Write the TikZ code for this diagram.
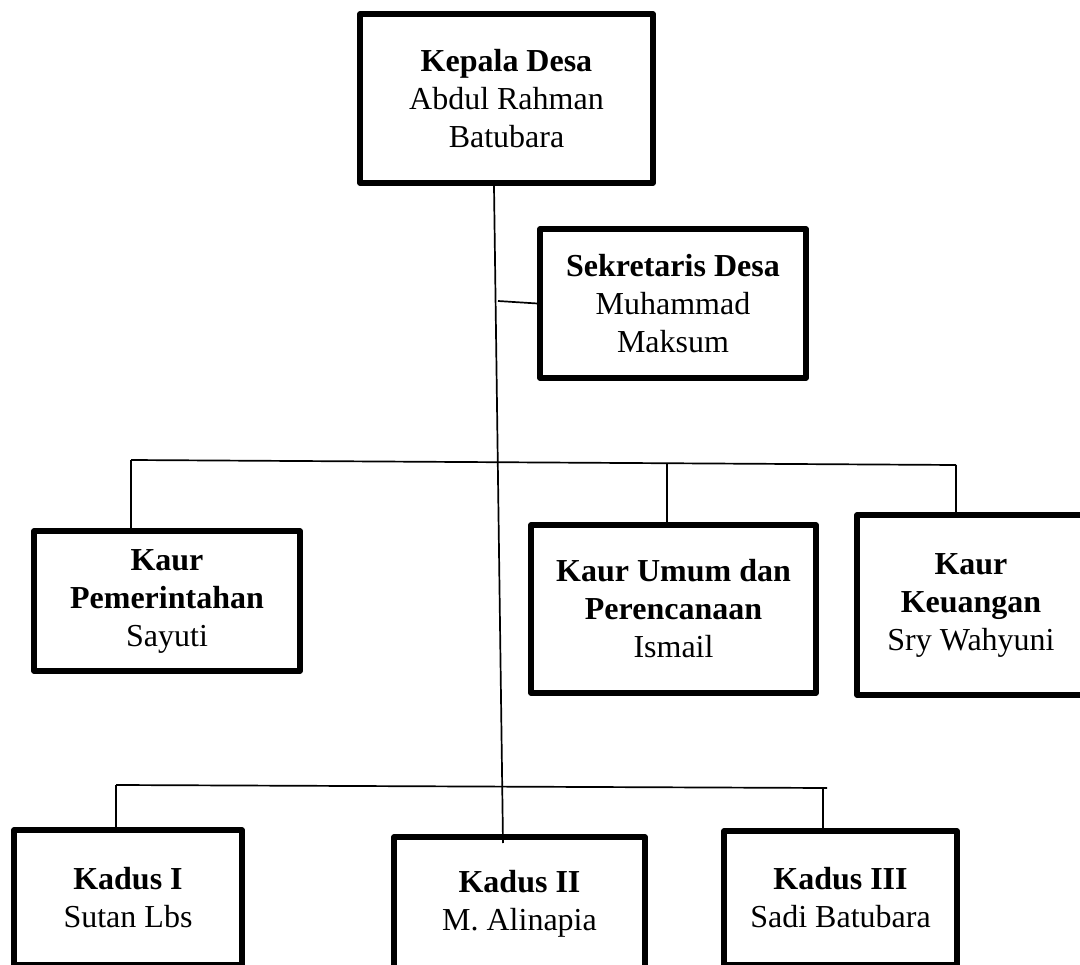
\documentclass[tikz,border=0pt]{standalone}
\usepackage{fontspec}
\setmainfont{Liberation Serif}

\begin{document}
\begin{tikzpicture}[x=1pt, y=-1pt,
		kotak/.style={draw, line width=5.2pt, line join=round, inner sep=0pt, align=center, font=\fontsize{32}{38}\selectfont},
		garis/.style={line width=1.7pt}]
				\useasboundingbox[fill=white] (0,0) rectangle (1080,965);
				\node[kotak, minimum width=293pt, minimum height=169pt] (kepala) at (506.5,98.5) {\textbf{Kepala Desa}\\Abdul Rahman\\Batubara};
				\node[kotak, minimum width=266pt, minimum height=149pt] (sek) at (673,303.5) {\textbf{Sekretaris Desa}\\Muhammad\\Maksum};
				\node[kotak, minimum width=266pt, minimum height=140pt] (pem) at (167,601) {\textbf{Kaur}\\\textbf{Pemerintahan}\\Sayuti};
				\node[kotak, minimum width=285pt, minimum height=168pt] (umum) at (673.5,609) {\textbf{Kaur Umum dan}\\\textbf{Perencanaan}\\Ismail};
				\node[kotak, minimum width=228pt, minimum height=180pt] (uang) at (971,605) {\textbf{Kaur}\\\textbf{Keuangan}\\Sry Wahyuni};
				\node[kotak, minimum width=228pt, minimum height=135pt] (kadus1) at (128,897.5) {\textbf{Kadus I}\\Sutan Lbs};
				\node[kotak, minimum width=251pt, minimum height=133pt] (kadus2) at (519.5,903.5) {\textbf{Kadus II}\\M. Alinapia};
				\node[kotak, minimum width=233pt, minimum height=134pt] (kadus3) at (840.5,898) {\textbf{Kadus III}\\Sadi Batubara};
				\coordinate (pusat atas) at (494,186);
				\coordinate (pusat bawah) at (503,843);
				\draw[garis] (pusat atas) -- (pusat bawah);
				\coordinate (cabang sek) at (498,301);
				\draw[garis] (cabang sek) -- (sek.west);
				\coordinate (kaur kiri) at (131,460);
				\coordinate (kaur tengah) at (667,463.2);
				\coordinate (kaur kanan) at (956,465);
				\draw[garis] (kaur kiri) -- (kaur kanan);
				\draw[garis] (kaur kiri) -- (kaur kiri |- pem.north);
				\draw[garis] (kaur tengah) -- (kaur tengah |- umum.north);
				\draw[garis] (kaur kanan) -- (kaur kanan |- uang.north);
				\coordinate (kadus kiri) at (116,785);
				\coordinate (kadus kanan) at (823,787.9);
				\coordinate (kadus ujung) at (827,788);
				\draw[garis] (kadus kiri) -- (kadus ujung);
				\draw[garis] (kadus kiri) -- (kadus kiri |- kadus1.north);
				\draw[garis] (kadus kanan) -- (kadus kanan |- kadus3.north);
			\end{tikzpicture}
\end{document}
